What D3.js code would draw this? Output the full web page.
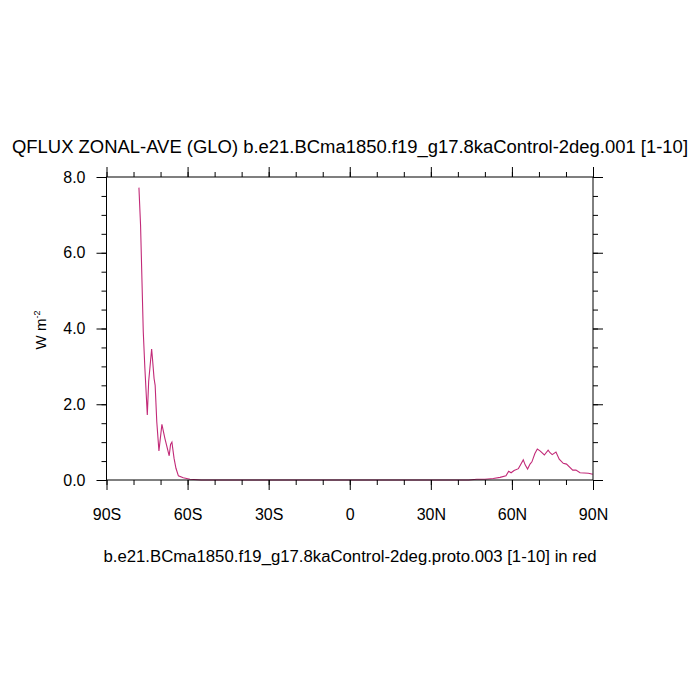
<!DOCTYPE html>
<html>
<head>
<meta charset="utf-8">
<script src="https://cdn.jsdelivr.net/npm/d3@7"></script>
<style>
  body { margin: 0; background: #fff; }
  text { font-family: "Liberation Sans", Arial, sans-serif; fill: #000; }
</style>
</head>
<body>
<script>
"use strict";
// zonal mean latitudes (deg) and QFLUX (W m-2)
const lats = [-78.0, -77.4, -76.4, -75.8, -74.9, -74.4, -73.3, -73.0, -72.4, -72.0, -71.4, -70.6, -69.5,
    -68.4, -66.8, -66.3, -65.8, -65.0, -64.3, -63.4, -61.6, -59.1, -55, 0, 44, 47.0, 50.0, 53.1, 55.6,
    57.8, 58.8, 59.7, 60.8, 62.4, 63.2, 64.2, 64.9, 65.8, 66.7, 67.4, 68.5, 69.4, 70.4, 72.0, 73.4,
    74.1, 74.9, 76.3, 77.5, 79.0, 80.2, 82.5, 83.7, 85.2, 88.3, 89.9];
const qflux = [7.72, 6.73, 3.92, 2.95, 1.72, 2.6, 3.46, 3.21, 2.68, 2.5, 1.54, 0.77, 1.47,
    1.1, 0.64, 0.94, 1.0, 0.57, 0.31, 0.11, 0.06, 0.02, 0, 0, 0, 0.02, 0.02, 0.04, 0.07,
    0.11, 0.23, 0.19, 0.25, 0.3, 0.4, 0.53, 0.4, 0.29, 0.42, 0.48, 0.7, 0.82, 0.77, 0.66, 0.79,
    0.72, 0.67, 0.74, 0.55, 0.44, 0.42, 0.26, 0.26, 0.19, 0.18, 0.15];
const xTicks = [-90, -60, -30, 0, 30, 60, 90];
const xTickLabels = ["90S", "60S", "30S", "0", "30N", "60N", "90N"];
const yTicks = [0, 2, 4, 6, 8];

const titleText = "QFLUX ZONAL-AVE (GLO) b.e21.BCma1850.f19_g17.8kaControl-2deg.001 [1-10]";
const xLabelText = "b.e21.BCma1850.f19_g17.8kaControl-2deg.proto.003 [1-10] in red";

const margin = { top: 177, right: 107, bottom: 220, left: 106.5 };
const width = 700 - margin.left - margin.right;
const height = 700 - margin.top - margin.bottom;

const svg = d3.select("body").append("svg")
    .attr("width", 700).attr("height", 700);
const g = svg.append("g").attr("transform", "translate(" + margin.left + "," + margin.top + ")");

const x = d3.scaleLinear().domain([-90, 90]).range([0, width]);
const y = d3.scaleLinear().domain([0, 8]).range([height, 0]);

// line
const line = d3.line().x((d, i) => x(lats[i])).y(d => y(d));
g.append("path").datum(qflux)
    .attr("fill", "none").attr("stroke", "#c22a78").attr("stroke-width", 1.1)
    .attr("d", line);

// axes (ticks pointing outward on all four sides)
const minorX = d3.range(-90, 91, 10);
const minorY = d3.range(0, 8.01, 0.5);
function styleAxis(sel) {
    sel.select(".domain").remove();
    sel.selectAll("line").attr("stroke", "#000");
}
g.append("g").attr("transform", "translate(0," + height + ")")
    .call(d3.axisBottom(x).tickValues(minorX).tickSize(5).tickFormat("")).call(styleAxis);
g.append("g").attr("transform", "translate(0," + height + ")")
    .call(d3.axisBottom(x).tickValues(xTicks).tickSize(10).tickPadding(19)
        .tickFormat((d, i) => xTickLabels[i])).call(styleAxis)
    .selectAll("text").style("font-size", "16px");
g.append("g")
    .call(d3.axisTop(x).tickValues(minorX).tickSize(5).tickFormat("")).call(styleAxis);
g.append("g")
    .call(d3.axisTop(x).tickValues(xTicks).tickSize(10).tickFormat("")).call(styleAxis);
g.append("g")
    .call(d3.axisLeft(y).tickValues(minorY).tickSize(5).tickFormat("")).call(styleAxis);
g.append("g")
    .call(d3.axisLeft(y).tickValues(yTicks).tickSize(10).tickPadding(11).tickFormat(d3.format(".1f")))
    .call(styleAxis)
    .selectAll("text").style("font-size", "16px");
g.append("g").attr("transform", "translate(" + width + ",0)")
    .call(d3.axisRight(y).tickValues(minorY).tickSize(5).tickFormat("")).call(styleAxis);
g.append("g").attr("transform", "translate(" + width + ",0)")
    .call(d3.axisRight(y).tickValues(yTicks).tickSize(10).tickFormat("")).call(styleAxis);

// frame
g.append("rect").attr("width", width).attr("height", height)
    .attr("fill", "none").attr("stroke", "#000").attr("stroke-width", 1);

// titles
svg.append("text").attr("x", 350).attr("y", 153).attr("text-anchor", "middle")
    .attr("textLength", 676).attr("lengthAdjust", "spacingAndGlyphs")
    .style("font-size", "18px").text(titleText);
svg.append("text").attr("x", 350).attr("y", 562).attr("text-anchor", "middle")
    .attr("textLength", 493).attr("lengthAdjust", "spacingAndGlyphs")
    .style("font-size", "16px").text(xLabelText);
const yl = svg.append("text").attr("transform", "translate(46,330) rotate(-90)")
    .attr("text-anchor", "middle").style("font-size", "15px");
yl.append("tspan").text("W m");
yl.append("tspan").attr("dy", -6).style("font-size", "9px").text("-2");
</script>
</body>
</html>
